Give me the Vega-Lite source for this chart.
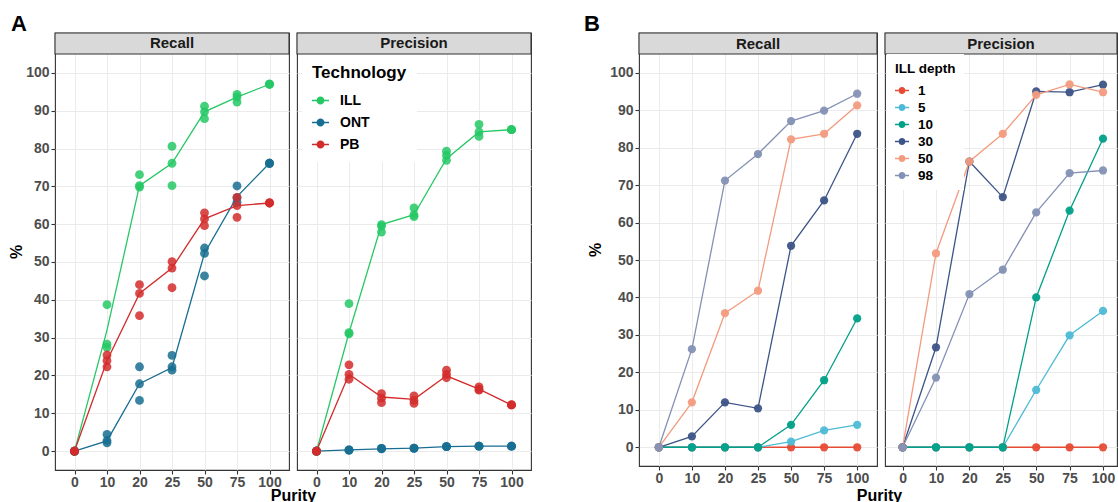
{
  "$schema": "https://vega.github.io/schema/vega-lite/v6.json",
  "padding": {"left": 8, "top": 12, "right": 0, "bottom": 0},
  "background": "white",
  "datasets": {
    "Apts": [
      {"metric":"Recall","tech":"ILL","purity":"0","value":0},{"metric":"Recall","tech":"ILL","purity":"0","value":0},{"metric":"Recall","tech":"ILL","purity":"0","value":0},
      {"metric":"Recall","tech":"ILL","purity":"10","value":38.7},{"metric":"Recall","tech":"ILL","purity":"10","value":28.3},{"metric":"Recall","tech":"ILL","purity":"10","value":27.4},
      {"metric":"Recall","tech":"ILL","purity":"20","value":73.1},{"metric":"Recall","tech":"ILL","purity":"20","value":70.2},{"metric":"Recall","tech":"ILL","purity":"20","value":69.8},
      {"metric":"Recall","tech":"ILL","purity":"25","value":80.6},{"metric":"Recall","tech":"ILL","purity":"25","value":76.1},{"metric":"Recall","tech":"ILL","purity":"25","value":70.2},
      {"metric":"Recall","tech":"ILL","purity":"50","value":91.2},{"metric":"Recall","tech":"ILL","purity":"50","value":89.7},{"metric":"Recall","tech":"ILL","purity":"50","value":87.9},
      {"metric":"Recall","tech":"ILL","purity":"75","value":94.3},{"metric":"Recall","tech":"ILL","purity":"75","value":93.6},{"metric":"Recall","tech":"ILL","purity":"75","value":92.3},
      {"metric":"Recall","tech":"ILL","purity":"100","value":97},{"metric":"Recall","tech":"ILL","purity":"100","value":97},{"metric":"Recall","tech":"ILL","purity":"100","value":97},
      {"metric":"Recall","tech":"ONT","purity":"0","value":0},{"metric":"Recall","tech":"ONT","purity":"0","value":0},{"metric":"Recall","tech":"ONT","purity":"0","value":0},
      {"metric":"Recall","tech":"ONT","purity":"10","value":4.4},{"metric":"Recall","tech":"ONT","purity":"10","value":2.8},{"metric":"Recall","tech":"ONT","purity":"10","value":2.2},
      {"metric":"Recall","tech":"ONT","purity":"20","value":22.3},{"metric":"Recall","tech":"ONT","purity":"20","value":17.8},{"metric":"Recall","tech":"ONT","purity":"20","value":13.4},
      {"metric":"Recall","tech":"ONT","purity":"25","value":25.3},{"metric":"Recall","tech":"ONT","purity":"25","value":22.3},{"metric":"Recall","tech":"ONT","purity":"25","value":21.4},
      {"metric":"Recall","tech":"ONT","purity":"50","value":53.7},{"metric":"Recall","tech":"ONT","purity":"50","value":52.3},{"metric":"Recall","tech":"ONT","purity":"50","value":46.3},
      {"metric":"Recall","tech":"ONT","purity":"75","value":70.1},{"metric":"Recall","tech":"ONT","purity":"75","value":67.0},{"metric":"Recall","tech":"ONT","purity":"75","value":65.8},
      {"metric":"Recall","tech":"ONT","purity":"100","value":76.1},{"metric":"Recall","tech":"ONT","purity":"100","value":76.1},{"metric":"Recall","tech":"ONT","purity":"100","value":76.1},
      {"metric":"Recall","tech":"PB","purity":"0","value":0},{"metric":"Recall","tech":"PB","purity":"0","value":0},{"metric":"Recall","tech":"PB","purity":"0","value":0},
      {"metric":"Recall","tech":"PB","purity":"10","value":25.4},{"metric":"Recall","tech":"PB","purity":"10","value":23.9},{"metric":"Recall","tech":"PB","purity":"10","value":22.3},
      {"metric":"Recall","tech":"PB","purity":"20","value":44.0},{"metric":"Recall","tech":"PB","purity":"20","value":41.7},{"metric":"Recall","tech":"PB","purity":"20","value":35.8},
      {"metric":"Recall","tech":"PB","purity":"25","value":50.1},{"metric":"Recall","tech":"PB","purity":"25","value":48.4},{"metric":"Recall","tech":"PB","purity":"25","value":43.2},
      {"metric":"Recall","tech":"PB","purity":"50","value":63.0},{"metric":"Recall","tech":"PB","purity":"50","value":61.4},{"metric":"Recall","tech":"PB","purity":"50","value":59.6},
      {"metric":"Recall","tech":"PB","purity":"75","value":67.1},{"metric":"Recall","tech":"PB","purity":"75","value":64.9},{"metric":"Recall","tech":"PB","purity":"75","value":61.8},
      {"metric":"Recall","tech":"PB","purity":"100","value":65.6},{"metric":"Recall","tech":"PB","purity":"100","value":65.6},{"metric":"Recall","tech":"PB","purity":"100","value":65.6},
      {"metric":"Precision","tech":"ILL","purity":"0","value":0},{"metric":"Precision","tech":"ILL","purity":"0","value":0},{"metric":"Precision","tech":"ILL","purity":"0","value":0},
      {"metric":"Precision","tech":"ILL","purity":"10","value":39.0},{"metric":"Precision","tech":"ILL","purity":"10","value":31.3},{"metric":"Precision","tech":"ILL","purity":"10","value":31.0},
      {"metric":"Precision","tech":"ILL","purity":"20","value":59.9},{"metric":"Precision","tech":"ILL","purity":"20","value":59.5},{"metric":"Precision","tech":"ILL","purity":"20","value":57.9},
      {"metric":"Precision","tech":"ILL","purity":"25","value":64.3},{"metric":"Precision","tech":"ILL","purity":"25","value":62.5},{"metric":"Precision","tech":"ILL","purity":"25","value":62.0},
      {"metric":"Precision","tech":"ILL","purity":"50","value":79.3},{"metric":"Precision","tech":"ILL","purity":"50","value":78.2},{"metric":"Precision","tech":"ILL","purity":"50","value":76.9},
      {"metric":"Precision","tech":"ILL","purity":"75","value":86.4},{"metric":"Precision","tech":"ILL","purity":"75","value":84.4},{"metric":"Precision","tech":"ILL","purity":"75","value":83.2},
      {"metric":"Precision","tech":"ILL","purity":"100","value":85},{"metric":"Precision","tech":"ILL","purity":"100","value":85},{"metric":"Precision","tech":"ILL","purity":"100","value":85},
      {"metric":"Precision","tech":"ONT","purity":"0","value":0},{"metric":"Precision","tech":"ONT","purity":"0","value":0},{"metric":"Precision","tech":"ONT","purity":"0","value":0},
      {"metric":"Precision","tech":"ONT","purity":"10","value":0.3},{"metric":"Precision","tech":"ONT","purity":"10","value":0.2},{"metric":"Precision","tech":"ONT","purity":"10","value":0.3},
      {"metric":"Precision","tech":"ONT","purity":"20","value":0.7},{"metric":"Precision","tech":"ONT","purity":"20","value":0.6},{"metric":"Precision","tech":"ONT","purity":"20","value":0.7},
      {"metric":"Precision","tech":"ONT","purity":"25","value":0.8},{"metric":"Precision","tech":"ONT","purity":"25","value":0.7},{"metric":"Precision","tech":"ONT","purity":"25","value":0.8},
      {"metric":"Precision","tech":"ONT","purity":"50","value":1.2},{"metric":"Precision","tech":"ONT","purity":"50","value":1.2},{"metric":"Precision","tech":"ONT","purity":"50","value":1.2},
      {"metric":"Precision","tech":"ONT","purity":"75","value":1.3},{"metric":"Precision","tech":"ONT","purity":"75","value":1.3},{"metric":"Precision","tech":"ONT","purity":"75","value":1.3},
      {"metric":"Precision","tech":"ONT","purity":"100","value":1.3},{"metric":"Precision","tech":"ONT","purity":"100","value":1.3},{"metric":"Precision","tech":"ONT","purity":"100","value":1.3},
      {"metric":"Precision","tech":"PB","purity":"0","value":0},{"metric":"Precision","tech":"PB","purity":"0","value":0},{"metric":"Precision","tech":"PB","purity":"0","value":0},
      {"metric":"Precision","tech":"PB","purity":"10","value":22.8},{"metric":"Precision","tech":"PB","purity":"10","value":20.3},{"metric":"Precision","tech":"PB","purity":"10","value":19.0},
      {"metric":"Precision","tech":"PB","purity":"20","value":15.2},{"metric":"Precision","tech":"PB","purity":"20","value":14.0},{"metric":"Precision","tech":"PB","purity":"20","value":12.8},
      {"metric":"Precision","tech":"PB","purity":"25","value":14.6},{"metric":"Precision","tech":"PB","purity":"25","value":13.4},{"metric":"Precision","tech":"PB","purity":"25","value":12.6},
      {"metric":"Precision","tech":"PB","purity":"50","value":21.4},{"metric":"Precision","tech":"PB","purity":"50","value":20.3},{"metric":"Precision","tech":"PB","purity":"50","value":19.4},
      {"metric":"Precision","tech":"PB","purity":"75","value":17.0},{"metric":"Precision","tech":"PB","purity":"75","value":16.4},{"metric":"Precision","tech":"PB","purity":"75","value":16.1},
      {"metric":"Precision","tech":"PB","purity":"100","value":12.2},{"metric":"Precision","tech":"PB","purity":"100","value":12.2},{"metric":"Precision","tech":"PB","purity":"100","value":12.2}
    ],
    "Aline": [
      {"metric":"Recall","tech":"ILL","purity":"0","value":0},{"metric":"Recall","tech":"ILL","purity":"10","value":32.0},{"metric":"Recall","tech":"ILL","purity":"20","value":70.2},{"metric":"Recall","tech":"ILL","purity":"25","value":76.1},{"metric":"Recall","tech":"ILL","purity":"50","value":89.7},{"metric":"Recall","tech":"ILL","purity":"75","value":93.6},{"metric":"Recall","tech":"ILL","purity":"100","value":97},
      {"metric":"Recall","tech":"ONT","purity":"0","value":0},{"metric":"Recall","tech":"ONT","purity":"10","value":2.7},{"metric":"Recall","tech":"ONT","purity":"20","value":17.8},{"metric":"Recall","tech":"ONT","purity":"25","value":22.1},{"metric":"Recall","tech":"ONT","purity":"50","value":52.3},{"metric":"Recall","tech":"ONT","purity":"75","value":67.3},{"metric":"Recall","tech":"ONT","purity":"100","value":76.1},
      {"metric":"Recall","tech":"PB","purity":"0","value":0},{"metric":"Recall","tech":"PB","purity":"10","value":23.9},{"metric":"Recall","tech":"PB","purity":"20","value":41.7},{"metric":"Recall","tech":"PB","purity":"25","value":48.4},{"metric":"Recall","tech":"PB","purity":"50","value":61.4},{"metric":"Recall","tech":"PB","purity":"75","value":64.9},{"metric":"Recall","tech":"PB","purity":"100","value":65.6},
      {"metric":"Precision","tech":"ILL","purity":"0","value":0},{"metric":"Precision","tech":"ILL","purity":"10","value":31.3},{"metric":"Precision","tech":"ILL","purity":"20","value":59.9},{"metric":"Precision","tech":"ILL","purity":"25","value":62.5},{"metric":"Precision","tech":"ILL","purity":"50","value":77.3},{"metric":"Precision","tech":"ILL","purity":"75","value":84.4},{"metric":"Precision","tech":"ILL","purity":"100","value":85},
      {"metric":"Precision","tech":"ONT","purity":"0","value":0},{"metric":"Precision","tech":"ONT","purity":"10","value":0.3},{"metric":"Precision","tech":"ONT","purity":"20","value":0.6},{"metric":"Precision","tech":"ONT","purity":"25","value":0.8},{"metric":"Precision","tech":"ONT","purity":"50","value":1.2},{"metric":"Precision","tech":"ONT","purity":"75","value":1.3},{"metric":"Precision","tech":"ONT","purity":"100","value":1.3},
      {"metric":"Precision","tech":"PB","purity":"0","value":0},{"metric":"Precision","tech":"PB","purity":"10","value":20.3},{"metric":"Precision","tech":"PB","purity":"20","value":14.3},{"metric":"Precision","tech":"PB","purity":"25","value":13.7},{"metric":"Precision","tech":"PB","purity":"50","value":19.9},{"metric":"Precision","tech":"PB","purity":"75","value":16.4},{"metric":"Precision","tech":"PB","purity":"100","value":12.2}
    ],
    "B": [
      {"metric":"Recall","depth":"1","purity":"0","value":0},{"metric":"Recall","depth":"1","purity":"10","value":0},{"metric":"Recall","depth":"1","purity":"20","value":0},{"metric":"Recall","depth":"1","purity":"25","value":0},{"metric":"Recall","depth":"1","purity":"50","value":0},{"metric":"Recall","depth":"1","purity":"75","value":0},{"metric":"Recall","depth":"1","purity":"100","value":0},
      {"metric":"Recall","depth":"5","purity":"0","value":0},{"metric":"Recall","depth":"5","purity":"10","value":0},{"metric":"Recall","depth":"5","purity":"20","value":0},{"metric":"Recall","depth":"5","purity":"25","value":0},{"metric":"Recall","depth":"5","purity":"50","value":1.5},{"metric":"Recall","depth":"5","purity":"75","value":4.5},{"metric":"Recall","depth":"5","purity":"100","value":6.0},
      {"metric":"Recall","depth":"10","purity":"0","value":0},{"metric":"Recall","depth":"10","purity":"10","value":0},{"metric":"Recall","depth":"10","purity":"20","value":0},{"metric":"Recall","depth":"10","purity":"25","value":0},{"metric":"Recall","depth":"10","purity":"50","value":6.0},{"metric":"Recall","depth":"10","purity":"75","value":17.9},{"metric":"Recall","depth":"10","purity":"100","value":34.4},
      {"metric":"Recall","depth":"30","purity":"0","value":0},{"metric":"Recall","depth":"30","purity":"10","value":2.9},{"metric":"Recall","depth":"30","purity":"20","value":12.0},{"metric":"Recall","depth":"30","purity":"25","value":10.4},{"metric":"Recall","depth":"30","purity":"50","value":53.8},{"metric":"Recall","depth":"30","purity":"75","value":65.9},{"metric":"Recall","depth":"30","purity":"100","value":83.7},
      {"metric":"Recall","depth":"50","purity":"0","value":0},{"metric":"Recall","depth":"50","purity":"10","value":12.0},{"metric":"Recall","depth":"50","purity":"20","value":35.8},{"metric":"Recall","depth":"50","purity":"25","value":41.8},{"metric":"Recall","depth":"50","purity":"50","value":82.2},{"metric":"Recall","depth":"50","purity":"75","value":83.7},{"metric":"Recall","depth":"50","purity":"100","value":91.3},
      {"metric":"Recall","depth":"98","purity":"0","value":0},{"metric":"Recall","depth":"98","purity":"10","value":26.2},{"metric":"Recall","depth":"98","purity":"20","value":71.2},{"metric":"Recall","depth":"98","purity":"25","value":78.3},{"metric":"Recall","depth":"98","purity":"50","value":87.1},{"metric":"Recall","depth":"98","purity":"75","value":89.9},{"metric":"Recall","depth":"98","purity":"100","value":94.4},
      {"metric":"Precision","depth":"1","purity":"0","value":0},{"metric":"Precision","depth":"1","purity":"10","value":0},{"metric":"Precision","depth":"1","purity":"20","value":0},{"metric":"Precision","depth":"1","purity":"25","value":0},{"metric":"Precision","depth":"1","purity":"50","value":0},{"metric":"Precision","depth":"1","purity":"75","value":0},{"metric":"Precision","depth":"1","purity":"100","value":0},
      {"metric":"Precision","depth":"5","purity":"0","value":0},{"metric":"Precision","depth":"5","purity":"10","value":0},{"metric":"Precision","depth":"5","purity":"20","value":0},{"metric":"Precision","depth":"5","purity":"25","value":0},{"metric":"Precision","depth":"5","purity":"50","value":15.3},{"metric":"Precision","depth":"5","purity":"75","value":29.9},{"metric":"Precision","depth":"5","purity":"100","value":36.4},
      {"metric":"Precision","depth":"10","purity":"0","value":0},{"metric":"Precision","depth":"10","purity":"10","value":0},{"metric":"Precision","depth":"10","purity":"20","value":0},{"metric":"Precision","depth":"10","purity":"25","value":0},{"metric":"Precision","depth":"10","purity":"50","value":40.0},{"metric":"Precision","depth":"10","purity":"75","value":63.2},{"metric":"Precision","depth":"10","purity":"100","value":82.4},
      {"metric":"Precision","depth":"30","purity":"0","value":0},{"metric":"Precision","depth":"30","purity":"10","value":26.7},{"metric":"Precision","depth":"30","purity":"20","value":76.3},{"metric":"Precision","depth":"30","purity":"25","value":66.8},{"metric":"Precision","depth":"30","purity":"50","value":95.0},{"metric":"Precision","depth":"30","purity":"75","value":94.8},{"metric":"Precision","depth":"30","purity":"100","value":96.8},
      {"metric":"Precision","depth":"50","purity":"0","value":0},{"metric":"Precision","depth":"50","purity":"10","value":51.8},{"metric":"Precision","depth":"50","purity":"20","value":76.3},{"metric":"Precision","depth":"50","purity":"25","value":83.7},{"metric":"Precision","depth":"50","purity":"50","value":94.1},{"metric":"Precision","depth":"50","purity":"75","value":96.9},{"metric":"Precision","depth":"50","purity":"100","value":94.8},
      {"metric":"Precision","depth":"98","purity":"0","value":0},{"metric":"Precision","depth":"98","purity":"10","value":18.6},{"metric":"Precision","depth":"98","purity":"20","value":40.9},{"metric":"Precision","depth":"98","purity":"25","value":47.4},{"metric":"Precision","depth":"98","purity":"50","value":62.7},{"metric":"Precision","depth":"98","purity":"75","value":73.2},{"metric":"Precision","depth":"98","purity":"100","value":73.9}
    ]
  },
  "bounds": "flush",
  "spacing": 8,
  "resolve": {"scale": {"color": "independent"}, "legend": {"color": "independent"}},
  "hconcat": [
    {
      "title": {"text": "A", "anchor": "start", "frame": "group", "fontSize": 22, "fontWeight": "bold", "color": "#000000", "dx": -44, "dy": 24, "offset": 3, "baseline": "alphabetic"},
      "width": 234, "height": 437,
      "layer": [
        {
          "encoding": {
            "x": {"field": "purity", "type": "ordinal", "sort": ["0","10","20","25","50","75","100"], "scale": {"type": "point", "padding": 0.6},
                  "axis": {"title": "Purity", "titleX": 238, "titleY": 30.5, "titleAlign": "center", "titleBaseline": "alphabetic", "labelAngle": 0, "grid": true}},
            "y": {"field": "value", "type": "quantitative", "scale": {"domain": [-5, 110.55], "nice": false, "zero": false},
                  "axis": {"title": "%", "titlePadding": 1, "values": [0,5,10,15,20,25,30,35,40,45,50,55,60,65,70,75,80,85,90,95,100],
                           "labelExpr": "datum.value % 10 === 0 ? datum.label : ''", "labelOverlap": false, "labelFlush": false,
                           "gridWidth": {"condition": {"test": "datum.value % 10 === 0", "value": 1.1}, "value": 0.6},
                           "tickOpacity": {"condition": {"test": "datum.value % 10 === 0", "value": 1}, "value": 0}}},
            "color": {"field": "tech", "type": "nominal", "scale": {"domain": ["ILL","ONT","PB"], "range": ["#25C865","#186E92","#D32B2B"]}, "legend": null}
          },
          "layer": [
            {"data": {"name": "Aline"}, "transform": [{"filter": "datum.metric === 'Recall'"}], "mark": {"type": "line", "strokeWidth": 1.3}},
            {"data": {"name": "Apts"}, "transform": [{"filter": "datum.metric === 'Recall'"}], "mark": {"type": "circle", "size": 78, "opacity": 0.85}}
          ]
        },
        {
          "data": {"values": [{"label": "Recall"}]},
          "layer": [
            {"mark": {"type": "rect", "fill": "#D9D9D9", "stroke": "#333333", "strokeWidth": 1.1}, "encoding": {"y": {"datum": 105}, "y2": {"datum": 110.55}}},
            {"mark": {"type": "text", "fontSize": 15, "fontWeight": "bold", "color": "#1A1A1A", "baseline": "middle", "align": "center"}, "encoding": {"y": {"datum": 107.8}, "text": {"field": "label"}}}
          ]
        }
      ]
    },
    {
      "width": 234, "height": 437,
      "layer": [
        {
          "encoding": {
            "x": {"field": "purity", "type": "ordinal", "sort": ["0","10","20","25","50","75","100"], "scale": {"type": "point", "padding": 0.6},
                  "axis": {"title": null, "labelAngle": 0, "grid": true}},
            "y": {"field": "value", "type": "quantitative", "scale": {"domain": [-5, 110.55], "nice": false, "zero": false},
                  "axis": {"title": null, "labels": false, "ticks": false, "values": [0,5,10,15,20,25,30,35,40,45,50,55,60,65,70,75,80,85,90,95,100],
                           "gridWidth": {"condition": {"test": "datum.value % 10 === 0", "value": 1.1}, "value": 0.6}}},
            "color": {"field": "tech", "type": "nominal", "scale": {"domain": ["ILL","ONT","PB"], "range": ["#25C865","#186E92","#D32B2B"]},
                      "legend": {"title": "Technology", "orient": "none", "legendX": 5, "legendY": 22, "padding": 10, "fillColor": "white",
                                 "titleFontSize": 17, "titleFontWeight": "bold", "titleColor": "#000000", "titlePadding": 10,
                                 "labelFontSize": 14, "labelFontWeight": "bold", "labelColor": "#000000", "labelOffset": 11,
                                 "symbolType": "M-1,-0.076H-0.45V0.076H-1ZM0.45,-0.076H1V0.076H0.45ZM-0.47,0A0.47,0.47,0,1,1,0.47,0A0.47,0.47,0,1,1,-0.47,0Z",
                                 "symbolSize": 289, "symbolStrokeWidth": 0, "symbolOpacity": 1, "rowPadding": 6}}
          },
          "layer": [
            {"data": {"name": "Aline"}, "transform": [{"filter": "datum.metric === 'Precision'"}], "mark": {"type": "line", "strokeWidth": 1.3}},
            {"data": {"name": "Apts"}, "transform": [{"filter": "datum.metric === 'Precision'"}], "mark": {"type": "circle", "size": 78, "opacity": 0.85}}
          ]
        },
        {
          "data": {"values": [{"label": "Precision"}]},
          "layer": [
            {"mark": {"type": "rect", "fill": "#D9D9D9", "stroke": "#333333", "strokeWidth": 1.1}, "encoding": {"y": {"datum": 105}, "y2": {"datum": 110.55}}},
            {"mark": {"type": "text", "fontSize": 15, "fontWeight": "bold", "color": "#1A1A1A", "baseline": "middle", "align": "center"}, "encoding": {"y": {"datum": 107.8}, "text": {"field": "label"}}}
          ]
        }
      ]
    },
    {
      "width": 92, "height": 437,
      "view": {"stroke": null},
      "data": {"values": []},
      "mark": {"type": "text"},
      "encoding": {}
    },
    {
      "title": {"text": "B", "anchor": "start", "frame": "group", "fontSize": 22, "fontWeight": "bold", "color": "#000000", "dx": -55, "dy": 24, "offset": 3, "baseline": "alphabetic"},
      "width": 238, "height": 433,
      "layer": [
        {
          "data": {"name": "B"},
          "transform": [{"filter": "datum.metric === 'Recall'"}],
          "encoding": {
            "x": {"field": "purity", "type": "ordinal", "sort": ["0","10","20","25","50","75","100"], "scale": {"type": "point", "padding": 0.6},
                  "axis": {"title": "Purity", "titleX": 240, "titleY": 34, "titleAlign": "center", "titleBaseline": "alphabetic", "labelAngle": 0, "grid": true}},
            "y": {"field": "value", "type": "quantitative", "scale": {"domain": [-5, 110.61], "nice": false, "zero": false},
                  "axis": {"title": "%", "titlePadding": 6, "values": [0,5,10,15,20,25,30,35,40,45,50,55,60,65,70,75,80,85,90,95,100],
                           "labelExpr": "datum.value % 10 === 0 ? datum.label : ''", "labelOverlap": false, "labelFlush": false,
                           "gridWidth": {"condition": {"test": "datum.value % 10 === 0", "value": 1.1}, "value": 0.6},
                           "tickOpacity": {"condition": {"test": "datum.value % 10 === 0", "value": 1}, "value": 0}}},
            "color": {"field": "depth", "type": "nominal", "scale": {"domain": ["1","5","10","30","50","98"], "range": ["#E64B35","#4DBBD5","#00A087","#3C5488","#F39B7F","#8491B4"]}, "legend": null}
          },
          "layer": [
            {"mark": {"type": "line", "strokeWidth": 1.3}},
            {"mark": {"type": "circle", "size": 68, "opacity": 0.95}}
          ]
        },
        {
          "data": {"values": [{"label": "Recall"}]},
          "layer": [
            {"mark": {"type": "rect", "fill": "#D9D9D9", "stroke": "#333333", "strokeWidth": 1.1}, "encoding": {"y": {"datum": 105}, "y2": {"datum": 110.61}}},
            {"mark": {"type": "text", "fontSize": 15, "fontWeight": "bold", "color": "#1A1A1A", "baseline": "middle", "align": "center"}, "encoding": {"y": {"datum": 107.8}, "text": {"field": "label"}}}
          ]
        }
      ]
    },
    {
      "width": 232, "height": 433,
      "layer": [
        {
          "data": {"name": "B"},
          "transform": [{"filter": "datum.metric === 'Precision'"}],
          "encoding": {
            "x": {"field": "purity", "type": "ordinal", "sort": ["0","10","20","25","50","75","100"], "scale": {"type": "point", "padding": 0.473, "align": 0.557},
                  "axis": {"title": null, "labelAngle": 0, "grid": true}},
            "y": {"field": "value", "type": "quantitative", "scale": {"domain": [-5, 110.61], "nice": false, "zero": false},
                  "axis": {"title": null, "labels": false, "ticks": false, "values": [0,5,10,15,20,25,30,35,40,45,50,55,60,65,70,75,80,85,90,95,100],
                           "gridWidth": {"condition": {"test": "datum.value % 10 === 0", "value": 1.1}, "value": 0.6}}},
            "color": {"field": "depth", "type": "nominal", "scale": {"domain": ["1","5","10","30","50","98"], "range": ["#E64B35","#4DBBD5","#00A087","#3C5488","#F39B7F","#8491B4"]},
                      "legend": {"title": "ILL depth", "orient": "none", "legendX": 2, "legendY": 21, "padding": 8, "fillColor": "white",
                                 "titleFontSize": 13.5, "titleFontWeight": "bold", "titleColor": "#000000", "titlePadding": 8,
                                 "labelFontSize": 13.5, "labelFontWeight": "bold", "labelColor": "#000000", "labelOffset": 9,
                                 "symbolType": "M-1,-0.093H-0.5V0.093H-1ZM0.5,-0.093H1V0.093H0.5ZM-0.5,0A0.5,0.5,0,1,1,0.5,0A0.5,0.5,0,1,1,-0.5,0Z",
                                 "symbolSize": 196, "symbolStrokeWidth": 0, "symbolOpacity": 1, "rowPadding": 3}}
          },
          "layer": [
            {"mark": {"type": "line", "strokeWidth": 1.3}},
            {"mark": {"type": "circle", "size": 68, "opacity": 0.95}}
          ]
        },
        {
          "data": {"values": [{"label": "Precision"}]},
          "layer": [
            {"mark": {"type": "rect", "fill": "#D9D9D9", "stroke": "#333333", "strokeWidth": 1.1}, "encoding": {"y": {"datum": 105}, "y2": {"datum": 110.61}}},
            {"mark": {"type": "text", "fontSize": 15, "fontWeight": "bold", "color": "#1A1A1A", "baseline": "middle", "align": "center"}, "encoding": {"y": {"datum": 107.8}, "text": {"field": "label"}}}
          ]
        }
      ]
    }
  ],
  "config": {
    "font": "Liberation Sans",
    "view": {"stroke": "#333333", "strokeWidth": 1.1},
    "axis": {"labelFont": "Liberation Sans", "labelFontSize": 14, "labelFontWeight": "bold", "labelColor": "#4D4D4D",
             "tickColor": "#333333", "tickSize": 4, "tickWidth": 1.1, "domain": false, "gridColor": "#EBEBEB",
             "titleFont": "Liberation Sans", "titleFontSize": 16, "titleFontWeight": "bold", "titleColor": "#000000", "labelPadding": 2},
    "axisX": {"labelPadding": 1},
    "legend": {"labelFont": "Liberation Sans", "titleFont": "Liberation Sans"}
  }
}
